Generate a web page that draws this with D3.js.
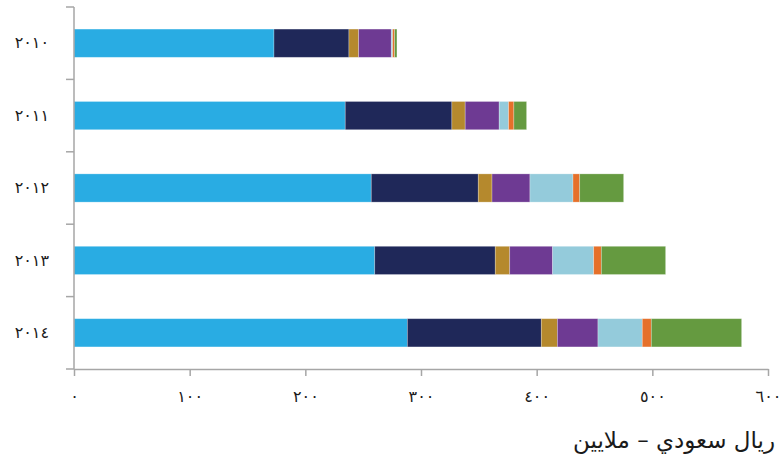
<!DOCTYPE html>
<html lang="ar">
  <head>
    <meta charset="UTF-8" />
    <title>Stacked bars</title>
    <script src="https://d3js.org/d3.v7.min.js"></script>
    <style>
      body {
        margin: 0;
        padding: 0;
        background: #fff;
        font-family: "DejaVu Sans", sans-serif;
      }
      .axis path,
      .axis line {
        stroke: #a6a6a6;
        stroke-width: 1.5;
      }
      .axis text {
        fill: #1a1a1a;
        font-size: 16px;
        font-family: "DejaVu Sans", sans-serif;
      }
      .title {
        fill: #1a1a1a;
        font-size: 23px;
      }
    </style>
  </head>
  <body>
    <div id="chart"></div>
    <script>
      const years = ["٢٠١٠", "٢٠١١", "٢٠١٢", "٢٠١٣", "٢٠١٤"];
      const seriesKeys = ["s1", "s2", "s3", "s4", "s5", "s6", "s7"];
      const s1 = [172.9, 234.5, 257.0, 260.0, 288.2];
      const s2 = [64.8, 92.2, 92.5, 104.2, 115.8];
      const s3 = [8.4, 11.5, 11.9, 12.5, 13.9];
      const s4 = [28.2, 29.4, 32.8, 37.1, 35.1];
      const s5 = [1.2, 8.1, 37.2, 35.5, 38.3];
      const s6 = [1.7, 4.6, 5.8, 6.6, 7.8];
      const s7 = [2.0, 11.0, 38.0, 55.6, 78.1];
      const xTicks = [0, 100, 200, 300, 400, 500, 600];
      const xTickLabels = ["٠", "١٠٠", "٢٠٠", "٣٠٠", "٤٠٠", "٥٠٠", "٦٠٠"];
      const axisTitle = "ريال سعودي – ملايين";

      const colors = [
        "#29ace3",
        "#1f2859",
        "#b5892d",
        "#6e3a93",
        "#94cbdb",
        "#e5702a",
        "#659a40",
      ];

      const allSeries = [s1, s2, s3, s4, s5, s6, s7];
      const rows = years.map((yr, i) => {
        const row = { year: yr };
        seriesKeys.forEach((k, j) => (row[k] = allSeries[j][i]));
        return row;
      });

      const width = 780;
      const height = 460;
      const plotLeft = 74;
      const plotRight = 768;
      const plotTop = 7;
      const plotBottom = 369;

      const svg = d3
        .select("#chart")
        .append("svg")
        .attr("width", width)
        .attr("height", height);

      const x = d3.scaleLinear().domain([0, 600]).range([plotLeft, plotRight]);
      const y = d3
        .scaleBand()
        .domain(years)
        .range([plotTop, plotBottom])
        .padding(0);

      const barFrac = 0.39;
      const barH = y.bandwidth() * barFrac;

      const stacked = d3.stack().keys(seriesKeys)(rows);

      svg
        .append("g")
        .selectAll("g")
        .data(stacked)
        .join("g")
        .attr("fill", (d, i) => colors[i])
        .selectAll("rect")
        .data((d) => d)
        .join("rect")
        .attr("x", (d) => x(d[0]))
        .attr("y", (d) => y(d.data.year) + (y.bandwidth() - barH) / 2)
        .attr("width", (d) => x(d[1]) - x(d[0]))
        .attr("height", barH)
        .attr("stroke", "#ffffff")
        .attr("stroke-opacity", 0.35)
        .attr("stroke-width", 0.75);

      // x axis
      svg
        .append("g")
        .attr("class", "axis")
        .attr("transform", `translate(0, ${plotBottom})`)
        .call(
          d3
            .axisBottom(x)
            .tickValues(xTicks)
            .tickSize(7)
            .tickSizeOuter(0)
            .tickPadding(15)
            .tickFormat((d, i) => xTickLabels[i])
        );

      // y axis: labels at band centres, ticks at band edges
      const yAxis = svg
        .append("g")
        .attr("class", "axis")
        .attr("transform", `translate(${plotLeft}, 0)`)
        .call(d3.axisLeft(y).tickSize(0).tickPadding(25));
      yAxis.select(".domain").remove();

      const edges = years.map((d) => y(d)).concat([plotBottom]);
      yAxis
        .selectAll("line.edge")
        .data(edges)
        .join("line")
        .attr("class", "edge")
        .attr("x1", -8)
        .attr("x2", 0)
        .attr("y1", (d) => d)
        .attr("y2", (d) => d);
      yAxis
        .append("line")
        .attr("x1", 0)
        .attr("x2", 0)
        .attr("y1", plotTop)
        .attr("y2", plotBottom);

      svg
        .append("text")
        .attr("class", "title")
        .attr("x", 775)
        .attr("y", 448)
        .attr("text-anchor", "end")
        .text(axisTitle);
    </script>
  </body>
</html>
